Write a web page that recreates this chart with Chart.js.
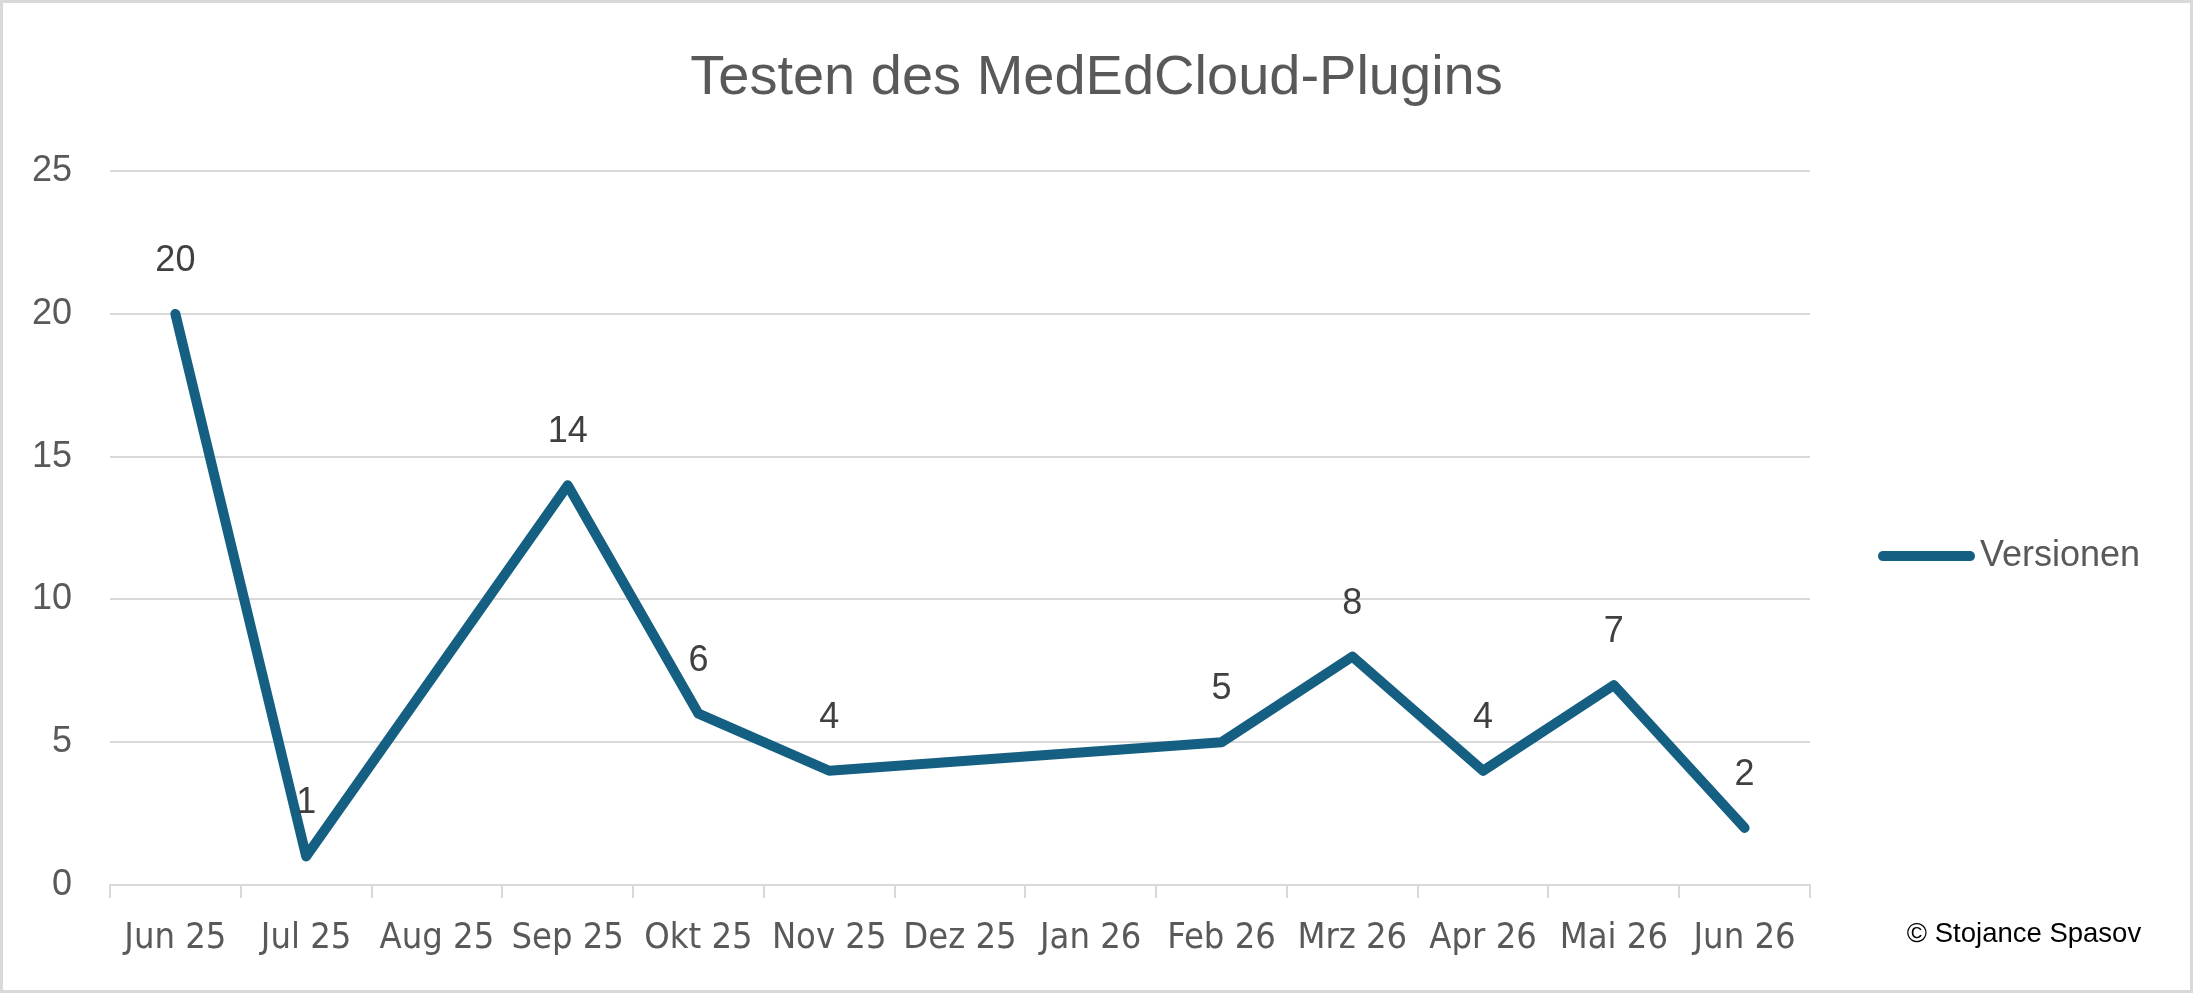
<!DOCTYPE html>
<html>
<head>
<meta charset="utf-8">
<script src="https://cdn.jsdelivr.net/npm/chart.js@4"></script>
<style>
  html, body { margin: 0; padding: 0; background: #fff; }
  canvas { display: block; }
</style>
</head>
<body>
<canvas id="versionen" width="2193" height="993"></canvas>
<script>
// Testen des MedEdCloud-Plugins
var MONATE = ["Jun 25", "Jul 25", "Aug 25", "Sep 25", "Okt 25", "Nov 25", "Dez 25", "Jan 26", "Feb 26", "Mrz 26", "Apr 26", "Mai 26", "Jun 26"];
var VERSIONEN = [20, 1, null, 14, 6, 4, null, null, 5, 8, 4, 7, 2];
var Y_TICKS = [0, 5, 10, 15, 20, 25];

var farbe = {
	linie: '#156082',
	text: '#595959',
	label: '#404040',
	gitter: '#d9d9d9'
};
var schrift = '"Liberation Sans", Arial, sans-serif';
var schmal = '"DejaVu Sans Condensed", "Liberation Sans Narrow", "DejaVu Sans", sans-serif';

// Werte ueber den Punkten
var wertePlugin = {
	id: 'werte',
	afterDatasetsDraw: function(chart) {
		var ctx = chart.ctx;
		var meta = chart.getDatasetMeta(0);
		ctx.save();
		ctx.font = '36px ' + schrift;
		ctx.fillStyle = farbe.label;
		ctx.textAlign = 'center';
		ctx.textBaseline = 'middle';
		meta.data.forEach(function(pt, i) {
			var v = chart.data.datasets[0].data[i];
			if (v === null) return;
			ctx.fillText(String(v), pt.x, pt.y - 53);
		});
		ctx.restore();
	}
};

// Rahmen, Legende rechts, Copyright
var rahmenPlugin = {
	id: 'rahmen',
	beforeDraw: function(chart) {
		var ctx = chart.ctx;
		ctx.save();
		ctx.fillStyle = '#fff';
		ctx.fillRect(0, 0, chart.width, chart.height);
		ctx.restore();
	},
	afterDraw: function(chart) {
		var ctx = chart.ctx;
		var ds = chart.data.datasets[0];
		ctx.save();
		ctx.strokeStyle = farbe.gitter;
		ctx.lineWidth = 3;
		ctx.strokeRect(1.5, 1.5, chart.width - 3, chart.height - 3);

		// Legende
		var ly = (chart.chartArea.top + chart.chartArea.bottom) / 2 + 28;
		ctx.strokeStyle = ds.borderColor;
		ctx.lineWidth = ds.borderWidth;
		ctx.lineCap = 'round';
		ctx.beginPath();
		ctx.moveTo(1883, ly);
		ctx.lineTo(1970, ly);
		ctx.stroke();
		ctx.font = '36px ' + schrift;
		ctx.fillStyle = farbe.text;
		ctx.textAlign = 'left';
		ctx.textBaseline = 'middle';
		ctx.fillText(ds.label, 1980, ly);

		// Copyright
		ctx.font = '27.5px ' + schrift;
		ctx.fillStyle = '#000';
		ctx.textAlign = 'center';
		ctx.fillText('\u00A9 Stojance Spasov', 2024, 934);
		ctx.restore();
	}
};

window.onload = function() {
	var el = document.getElementById('versionen');
	var ctx = el.getContext('2d');
	window.myLine = new Chart(ctx, {
		type: 'line',
		data: {
			labels: MONATE,
			datasets: [{
				label: 'Versionen',
				data: VERSIONEN,
				borderColor: farbe.linie,
				backgroundColor: farbe.linie,
				borderWidth: 10,
				borderCapStyle: 'round',
				borderJoinStyle: 'round',
				pointRadius: 0,
				pointHoverRadius: 0,
				spanGaps: true,
				tension: 0,
				fill: false
			}]
		},
		options: {
			responsive: false,
			animation: false,
			devicePixelRatio: 1,
			layout: {
				padding: 0
			},
			plugins: {
				legend: { display: false },
				tooltip: { enabled: false },
				title: {
					display: true,
					text: 'Testen des MedEdCloud-Plugins',
					color: farbe.text,
					font: { family: schrift, size: 56, weight: 'normal' },
					padding: { top: 45, bottom: 59 }
				}
			},
			scales: {
				x: {
					offset: true,
					grid: {
						offset: true,
						drawOnChartArea: false,
						drawTicks: true,
						tickLength: 13,
						color: farbe.gitter,
						lineWidth: 2
					},
					border: { display: true, color: farbe.gitter, width: 2 },
					ticks: {
						color: farbe.text,
						font: { family: schmal, size: 36 },
						padding: 19,
						maxRotation: 0,
						autoSkip: false
					},
					afterFit: function(scale) { scale.height = 108; }
				},
				y: {
					min: Y_TICKS[0],
					max: Y_TICKS[Y_TICKS.length - 1],
					grid: { color: farbe.gitter, lineWidth: 2, drawTicks: false },
					border: { display: false },
					ticks: {
						stepSize: 5,
						color: farbe.text,
						font: { family: schrift, size: 36 },
						padding: 38
					},
					afterFit: function(scale) { scale.width = 110; }
				},
				// Platz rechts fuer Legende
				rechts: {
					type: 'linear',
					position: 'right',
					grid: { display: false },
					border: { display: false },
					ticks: { display: false },
					afterFit: function(scale) { scale.width = 383; }
				}
			}
		},
		plugins: [wertePlugin, rahmenPlugin]
	});
};
</script>
</body>
</html>
